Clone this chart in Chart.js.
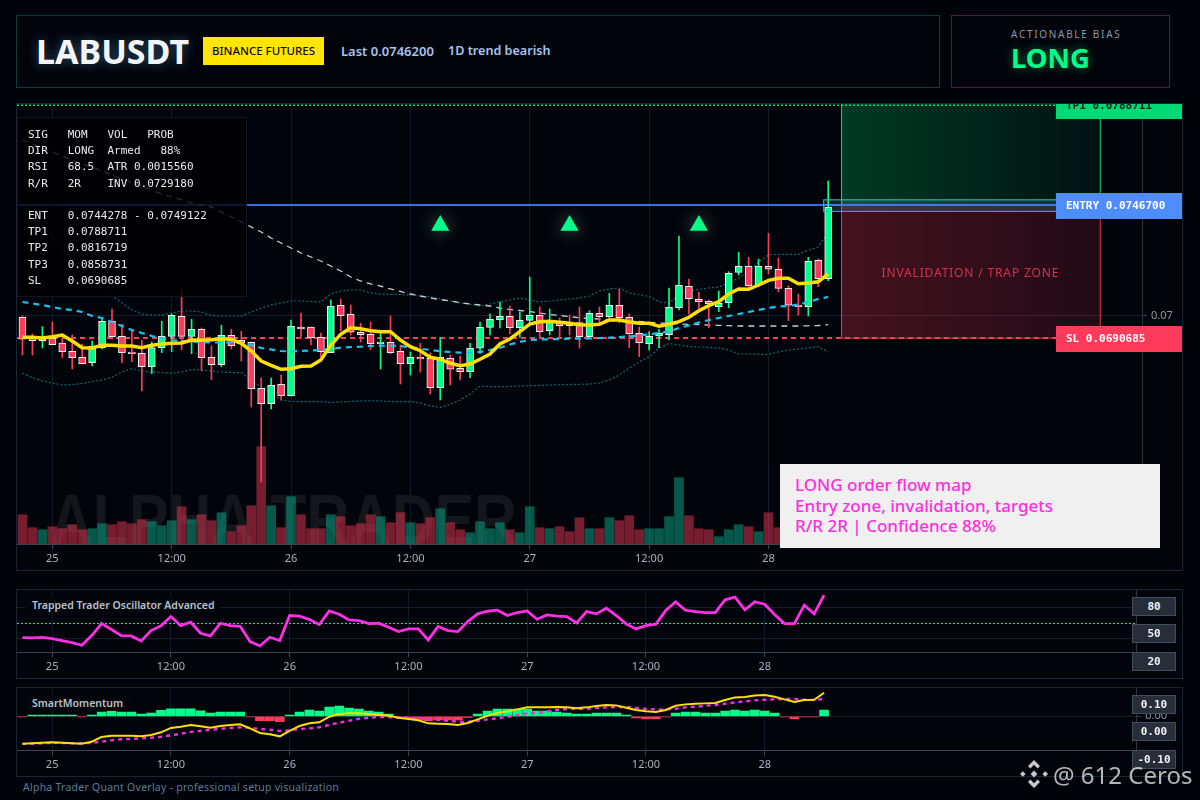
<!DOCTYPE html>
<html>
<head>
<meta charset="utf-8">
<title>LABUSDT</title>
<script src="https://cdn.jsdelivr.net/npm/chart.js@4"></script>
<style>
  html, body { margin: 0; padding: 0; background: #01030a; }
  body { width: 1200px; height: 800px; position: relative; overflow: hidden; font-family: "Noto Sans", sans-serif; }
  .box { position: absolute; box-sizing: border-box; background: #02040b; }
  .abs { position: absolute; white-space: pre; }
  canvas { position: absolute; left: 0; top: 0; }
  .vbox { position: absolute; left: 1132px; width: 44px; height: 19px; box-sizing: border-box; background: #282d3a; border: 1px solid #434d5e;
          color: #eef2f6; font: bold 11px "DejaVu Sans Mono", monospace; line-height: 17px; text-align: center; }
  .ptitle { position: absolute; left: 26px; padding: 0 6px; height: 16px; line-height: 16px; background: #04060c; color: #b9c1cc; font-size: 10.5px; font-weight: 600; }
</style>
</head>
<body>

<div class="box" style="left:16px;top:15px;width:924px;height:73px;border:1px solid #0e3a44;"></div>
<div class="abs" style="left:36px;top:27px;font-size:34px;font-weight:700;line-height:48px;color:#f2f6fb;text-shadow:0 0 12px rgba(120,200,255,.4);">LABUSDT</div>
<div class="abs" style="left:203px;top:37px;width:121px;height:28px;background:#ffe600;color:#0a0a0a;font-size:11.5px;font-weight:500;line-height:28px;text-align:center;">BINANCE FUTURES</div>
<div class="abs" style="left:341px;top:41px;font-size:13px;font-weight:600;line-height:20px;color:#a6c3ee;">Last 0.0746200</div>
<div class="abs" style="left:448px;top:41px;font-size:12.6px;font-weight:600;line-height:20px;color:#a6c3ee;">1D trend bearish</div>

<div class="box" style="left:951px;top:15px;width:219px;height:73px;border:1px solid #4c1a52;"></div>
<div class="abs" style="left:1011px;top:26px;font-size:10px;letter-spacing:1.7px;line-height:16px;color:#8b97a8;">ACTIONABLE BIAS</div>
<div class="abs" style="left:1011px;top:38px;font-size:27.5px;font-weight:700;line-height:40px;color:#00ff88;text-shadow:0 0 10px rgba(0,255,136,.45);">LONG</div>

<div class="box" style="left:16px;top:103px;width:1167px;height:468px;border:1px solid #1a2534;">
  <canvas id="mainChart" width="1165" height="466"></canvas>
</div>

<pre class="abs" style="margin:0;left:17px;top:117px;width:230px;height:180px;box-sizing:border-box;padding:9px 0 0 10px;background:rgba(0,0,0,.8);border:1px solid #10161f;color:#e6ebf0;font:11px/16.2px 'DejaVu Sans Mono',monospace;">SIG   MOM   VOL   PROB
DIR   LONG  Armed   88%
RSI   68.5  ATR 0.0015560
R/R   2R    INV 0.0729180

ENT   0.0744278 - 0.0749122
TP1   0.0788711
TP2   0.0816719
TP3   0.0858731
SL    0.0690685</pre>

<div class="abs" style="left:780px;top:464px;width:380px;height:84px;background:#f0f0f0;"></div>
<div class="abs" style="left:795px;top:475px;color:#ff2de0;font-size:17px;font-weight:500;line-height:20.5px;">LONG order flow map
Entry zone, invalidation, targets
R/R 2R | Confidence 88%</div>

<div class="box" style="left:16px;top:589px;width:1167px;height:90px;border:1px solid #1a2534;">
  <canvas id="oscChart" width="1165" height="88"></canvas>
</div>
<div class="ptitle" style="top:597px;">Trapped Trader Oscillator Advanced</div>

<div class="box" style="left:16px;top:687px;width:1167px;height:90px;border:1px solid #1a2534;">
  <canvas id="momChart" width="1165" height="88"></canvas>
</div>
<div class="ptitle" style="top:695px;">SmartMomentum</div>

<div id="valueBoxes"></div>

<div class="abs" style="left:23px;top:779px;font-size:10.5px;letter-spacing:.25px;line-height:16px;color:#5d7c92;">Alpha Trader Quant Overlay - professional setup visualization</div>

<svg class="abs" style="left:1020px;top:760px;" width="28" height="28" viewBox="0 0 28 28" fill="#c9c9c9">
  <path d="M14 0l6 6-2.4 2.4L14 4.8l-3.6 3.6L8 6zM0 14l2.8-2.8L5.6 14l-2.8 2.8zM14 10.6l3.4 3.4L14 17.4 10.6 14zM22.4 14l2.8-2.8L28 14l-2.8 2.8zM14 28l-6-6 2.4-2.4 3.6 3.6 3.6-3.6L20 22z"/>
</svg>
<div class="abs" style="left:1053px;top:755px;font-size:24px;line-height:40px;color:rgba(214,214,214,.85);">@ 612 Ceros</div>

<script>
// hourly candles
const opens = [
  0.069945,0.069061,0.06896,0.069061,0.068863,0.068514,0.068261,0.068033,0.068652,0.069777,
  0.069145,0.068484,0.068429,0.067865,0.068665,0.069145,0.069987,0.069145,0.06944,0.068261,
  0.067949,0.069187,0.068977,0.068893,0.066955,0.066307,0.067124,0.066631,0.069537,0.069537,
  0.069103,0.068455,0.070451,0.070072,0.069314,0.069229,0.068834,0.068893,0.068514,0.067991,
  0.068261,0.068219,0.066981,0.068219,0.067798,0.067654,0.06864,0.069524,0.069844,0.069987,
  0.069507,0.069819,0.070029,0.069381,0.069718,0.069693,0.069718,0.069128,0.070114,0.069971,
  0.070451,0.069945,0.069271,0.068834,0.069158,0.069213,0.07035,0.071251,0.070703,0.070619,
  0.070392,0.07056,0.07184,0.072093,0.071305,0.072093,0.071967,0.071166,0.070463,0.070392,
  0.072346,0.071571
];
const closes = [
  0.069019,0.06896,0.069061,0.068791,0.068497,0.068244,0.067991,0.068737,0.069777,0.069128,
  0.068455,0.068412,0.067865,0.068665,0.069145,0.070029,0.069145,0.06944,0.068244,0.067949,
  0.069187,0.068749,0.068876,0.066939,0.066307,0.067082,0.066631,0.069566,0.069453,0.069086,
  0.068497,0.070408,0.070013,0.069314,0.069213,0.068834,0.068905,0.068455,0.067991,0.068261,
  0.068189,0.066981,0.068261,0.067756,0.067654,0.06864,0.069524,0.069861,0.069987,0.069507,
  0.069819,0.070029,0.069339,0.069777,0.069592,0.069592,0.069128,0.070114,0.069971,0.070451,
  0.069928,0.069255,0.068876,0.069145,0.069271,0.070366,0.071293,0.070729,0.070602,0.070518,
  0.070535,0.071798,0.072093,0.071276,0.072093,0.071967,0.071166,0.070451,0.070392,0.072303,
  0.071571,0.074577
];
const highs = [
  0.07,0.069242,0.069549,0.069747,0.069074,0.0692,0.068821,0.068947,0.069874,0.070295,
  0.06965,0.06941,0.068989,0.068905,0.069777,0.070084,0.071095,0.069861,0.069495,0.068737,
  0.069608,0.06944,0.069356,0.068905,0.067389,0.067389,0.067516,0.069832,0.070126,0.069537,
  0.069284,0.070674,0.070716,0.070463,0.069693,0.069747,0.069271,0.07,0.068779,0.068484,
  0.06885,0.068442,0.069103,0.068358,0.068316,0.06885,0.069747,0.070084,0.07059,0.070421,
  0.070168,0.071642,0.070379,0.070295,0.069916,0.070042,0.070379,0.070223,0.070379,0.070956,
  0.071124,0.070084,0.069537,0.069339,0.06944,0.071179,0.073369,0.071558,0.071011,0.070674,
  0.071053,0.071865,0.072682,0.072472,0.072388,0.073483,0.072442,0.071276,0.070926,0.072472,
  0.0724,0.075685
];
const lows = [
  0.068358,0.068358,0.068652,0.068779,0.068244,0.067768,0.067979,0.067894,0.06861,0.069031,
  0.068033,0.068076,0.066842,0.06757,0.068455,0.068497,0.068581,0.068412,0.067697,0.067318,
  0.067865,0.06861,0.068105,0.066168,0.06301,0.066084,0.066463,0.066631,0.069103,0.068779,
  0.068273,0.068455,0.069368,0.0692,0.068905,0.068581,0.067768,0.068412,0.067137,0.067516,
  0.067642,0.066715,0.066463,0.067094,0.067305,0.067402,0.068429,0.0692,0.069495,0.069242,
  0.069103,0.069705,0.069103,0.0692,0.069074,0.0692,0.068652,0.069061,0.069693,0.069903,
  0.069718,0.068665,0.068286,0.068568,0.068665,0.068989,0.070253,0.070084,0.070253,0.069507,
  0.070181,0.07035,0.071727,0.071095,0.071234,0.071769,0.071023,0.069802,0.070042,0.07,
  0.071234,0.071487
];

const volumes = [
  29.3,16.3,14.3,17.3,15.3,19.3,14.3,15.3,20.3,19.3,22.3,20.3,24.3,22.3,18.3,23.3,37.3,24.3,29.3,23.3,
  31.3,12.3,18.3,38.3,97.3,38.3,16.3,47.3,29.3,15.3,15.3,29.3,27.3,18.3,20.3,29.3,27.3,21.3,31.3,21.3,
  20.3,26.3,35.3,21.3,14.3,11.3,22.3,15.3,21.3,14.3,11.3,37.3,16.3,15.3,17.3,12.3,26.3,15.3,15.3,26.3,
  23.3,28.3,14.3,15.3,15.3,27.3,66.3,28.3,15.3,14.3,7.3,14.3,19.3,17.3,12.3,31.3,16.3,15,15,20,20,30
];
// 1 = teal bar, 0 = red bar
const volumeUp = [
  0,0,1,0,0,0,0,1,1,0,0,0,0,1,1,1,0,1,0,0,
  1,0,0,0,0,1,0,1,0,0,0,1,0,0,0,0,1,0,0,1,
  0,0,1,0,0,1,1,1,1,0,1,1,0,1,0,0,0,1,0,1,
  0,0,0,1,1,1,1,0,0,0,1,1,1,0,1,0,0,0,0,0,0,1
];

const emaFast = [
  0.069103,0.069103,0.069074,0.069128,0.0692,0.068947,0.068665,0.068652,0.068766,0.068766,
  0.068737,0.068737,0.068665,0.068766,0.068821,0.06885,0.068863,0.068989,0.068977,0.069002,
  0.069044,0.069019,0.06885,0.068526,0.068105,0.067924,0.067756,0.067781,0.067882,0.067894,
  0.068147,0.068779,0.069229,0.069507,0.069465,0.069381,0.069339,0.069339,0.068989,0.068707,
  0.068539,0.068261,0.068177,0.068008,0.067907,0.067979,0.068177,0.0684,0.068821,0.069031,
  0.069339,0.069663,0.06976,0.069777,0.069735,0.069693,0.069634,0.069621,0.06965,0.069832,
  0.069832,0.069747,0.069693,0.069693,0.069566,0.06965,0.06976,0.069945,0.070223,0.070434,
  0.070602,0.070926,0.071137,0.071124,0.071305,0.071503,0.071588,0.071588,0.07136,0.07139,
  0.071444,0.071769
];
const emaSlow = [
  0.07059,0.070526,0.070463,0.070379,0.070295,0.070253,0.070168,0.07,0.069916,0.069747,
  0.069579,0.06941,0.069284,0.069158,0.069074,0.068989,0.068947,0.068926,0.068905,0.068884,
  0.068884,0.068884,0.068863,0.068779,0.068652,0.068589,0.068526,0.068505,0.068526,0.068547,
  0.068568,0.06861,0.068665,0.068695,0.068707,0.068737,0.068749,0.068745,0.068737,0.068674,
  0.068623,0.068568,0.068514,0.068484,0.068455,0.068463,0.068484,0.068568,0.068665,0.0688,
  0.068905,0.068989,0.06901,0.069019,0.069031,0.069044,0.069044,0.069053,0.069074,0.069086,
  0.069116,0.069137,0.069179,0.069229,0.069284,0.069347,0.069495,0.0696,0.069726,0.069832,
  0.069916,0.07,0.070084,0.070168,0.070253,0.070337,0.0704,0.070421,0.070484,0.07059,
  0.070716,0.0708
];
const maLong = [
  0.077411,0.077243,0.077074,0.076906,0.076738,0.076569,0.076401,0.076274,0.076106,0.075938,
  0.075769,0.075622,0.075474,0.075306,0.075137,0.075011,0.074885,0.074758,0.074674,0.07459,
  0.074379,0.074169,0.073958,0.073748,0.073537,0.073285,0.073074,0.072863,0.072653,0.072484,
  0.072316,0.072106,0.071895,0.071642,0.071474,0.071348,0.071263,0.071137,0.071032,0.070926,
  0.070842,0.070758,0.070695,0.070632,0.070568,0.070505,0.070463,0.070421,0.070337,0.070274,
  0.070232,0.070189,0.070126,0.070063,0.070021,0.069971,0.069928,0.069895,0.069874,0.069844,
  0.069823,0.069798,0.069768,0.069735,0.069705,0.069684,0.069663,0.06965,0.069638,0.069621,
  0.069608,0.069592,0.069579,0.069579,0.069579,0.069579,0.069579,0.069579,0.069579,0.069587,
  0.0696,0.069634
];
const bandUpper = [
  0.074464,0.074127,0.07379,0.073369,0.072779,0.072442,0.072106,0.0716,0.071179,0.070842,
  0.070547,0.070253,0.070084,0.070042,0.070042,0.070126,0.070211,0.070211,0.070168,0.070021,
  0.07,0.07,0.07,0.070168,0.070337,0.070463,0.070547,0.070632,0.070632,0.070611,
  0.07059,0.070926,0.071053,0.071095,0.071095,0.070968,0.070926,0.070914,0.070905,0.070884,
  0.070842,0.0708,0.070716,0.070632,0.070547,0.070484,0.070421,0.070505,0.07059,0.070674,
  0.070758,0.070674,0.07059,0.070632,0.070674,0.070716,0.070758,0.070842,0.071053,0.071137,
  0.071179,0.070968,0.070905,0.070821,0.07059,0.070547,0.070884,0.071053,0.071116,0.071179,
  0.071221,0.07139,0.0716,0.071853,0.072274,0.072569,0.072598,0.072598,0.072598,0.072779,
  0.072906,0.073537
];
const bandLower = [
  0.0676,0.06741,0.067263,0.067179,0.067094,0.067115,0.067158,0.067242,0.067305,0.067431,
  0.067642,0.067789,0.067684,0.067642,0.067621,0.067587,0.067642,0.067747,0.067726,0.067684,
  0.067642,0.067621,0.067612,0.067305,0.06701,0.066715,0.066463,0.0664,0.066391,0.066391,
  0.066391,0.066357,0.066379,0.0664,0.066421,0.066433,0.066421,0.0664,0.066391,0.066391,
  0.066336,0.06621,0.066155,0.066273,0.066463,0.066715,0.067052,0.067031,0.067023,0.067031,
  0.067052,0.067065,0.067073,0.067094,0.067107,0.067115,0.067124,0.067137,0.067179,0.067305,
  0.067516,0.06781,0.068063,0.068274,0.068652,0.068842,0.068779,0.068716,0.068695,0.068674,
  0.068652,0.068568,0.0684,0.0684,0.068387,0.068387,0.068484,0.068568,0.06861,0.068652,
  0.068707,0.068484
];

const signalCandles = [42, 55, 68];
const signalPrices = [0.07381, 0.07381, 0.07381];

const entryPrice = 0.07467;
const entryLow = 0.0744278;
const entryHigh = 0.0749122;
const slPrice = 0.0690685;
const tp1Price = 0.0788711;

const tickPositions = [3, 15, 27, 39, 51, 63, 75];
const tickLabels = ['25', '12:00', '26', '12:00', '27', '12:00', '28'];
const priceTicks = [0.07];

const oscValues = [
  22.6,21.9,23.2,20.7,16.8,12.9,7.8,26.5,49.7,38.1,26.5,25.8,16.1,36.1,45.2,63.2,45.8,52.3,31,25.8,
  50.3,45.8,44.5,14.8,6.5,23.2,16.8,65.2,63.9,57.4,47.8,74.2,67.8,56.8,55.5,49.7,50.3,42.6,34.2,39.4,
  39.4,18.1,43.9,36.1,34.2,53.5,68.4,73.5,75.5,65.2,71,74.2,58.1,66.5,63.9,63.2,51,72.9,68.4,79.4,
  65.2,49,39.4,45.8,48.4,74.8,91.6,75.5,72.9,71,71,95.5,100.6,76.1,91.6,87.1,67.1,49.7,49.7,85.2,
  68.4,104.5
];
const oscLevel = 50;
const oscTicks = [20, 80];
const oscBoxLabels = ['80', '50', '20'];

const momFast = [
  -0.137,-0.135,-0.132,-0.13,-0.132,-0.135,-0.137,-0.127,-0.103,-0.097,-0.097,-0.097,-0.1,-0.093,-0.08,-0.058,-0.052,-0.043,-0.05,-0.057,
  -0.048,-0.043,-0.04,-0.06,-0.083,-0.09,-0.1,-0.073,-0.048,-0.035,-0.03,-0.002,0.012,0.015,0.015,0.012,0.008,0.003,-0.007,-0.013,
  -0.02,-0.035,-0.037,-0.038,-0.043,-0.033,-0.015,0.003,0.017,0.025,0.035,0.045,0.045,0.045,0.047,0.045,0.04,0.045,0.052,0.057,
  0.055,0.043,0.032,0.025,0.022,0.032,0.053,0.06,0.063,0.065,0.067,0.082,0.095,0.097,0.105,0.107,0.098,0.085,0.072,0.082,
  0.083,0.118
];
const momSlow = [
  -0.138,-0.137,-0.135,-0.133,-0.133,-0.135,-0.135,-0.133,-0.127,-0.12,-0.115,-0.113,-0.11,-0.107,-0.102,-0.095,-0.087,-0.078,-0.072,-0.067,
  -0.063,-0.058,-0.055,-0.057,-0.063,-0.067,-0.073,-0.07,-0.063,-0.06,-0.055,-0.043,-0.032,-0.022,-0.012,-0.007,-0.003,-0.003,-0.007,-0.007,
  -0.01,-0.013,-0.017,-0.022,-0.027,-0.028,-0.022,-0.015,-0.01,-0.002,0.007,0.015,0.018,0.025,0.032,0.037,0.038,0.038,0.042,0.045,
  0.047,0.047,0.042,0.037,0.035,0.035,0.038,0.045,0.048,0.053,0.057,0.063,0.07,0.075,0.08,0.083,0.085,0.087,0.087,0.083,
  0.082,0.087
];
const momHist = [
  -0.002,0.007,0.007,0.007,0.007,0.007,-0.002,0.007,0.022,0.025,0.022,0.022,0.012,0.017,0.03,0.038,0.038,0.038,0.028,0.017,
  0.022,0.022,0.022,-0.002,-0.022,-0.022,-0.027,0.007,0.022,0.032,0.027,0.047,0.052,0.042,0.037,0.027,0.022,0.012,-0.002,-0.01,
  -0.015,-0.022,-0.018,-0.018,-0.018,-0.005,0.012,0.027,0.037,0.037,0.037,0.037,0.027,0.027,0.022,0.017,0.012,0.012,0.017,0.017,
  0.017,0.007,-0.008,-0.013,-0.013,-0.002,0.017,0.022,0.022,0.017,0.017,0.027,0.032,0.027,0.032,0.027,0.017,-0.002,-0.013,-0.002,
  -0.002,0.032
];
const momTicks = [0];
const momBoxLabels = ['0.10', '0.00', '-0.10'];

const UP = '#00ff88';
const DOWN = '#ff3b5c';
const X_MIN = -0.55;
const X_MAX = 112.55;
const LEVEL_END = 103.9;    // level lines stop where the price tags start
const ZONE_START = 82.3;
const ZONE_END = 108.3;
const ENTRY_BOX_START = 80.5;

const toXY = (arr) => arr.map((v, i) => ({ x: i, y: v }));
const levelLine = (price) => [{ x: X_MIN, y: price }, { x: LEVEL_END, y: price }];

const timeAxis = (height) => ({
  type: 'linear',
  min: X_MIN,
  max: X_MAX,
  offset: false,
  grid: { offset: false, color: '#0d1c28', tickColor: '#3a4452', tickLength: 5 },
  border: { color: '#3a4452' },
  afterBuildTicks: (scale) => { scale.ticks = tickPositions.map((v) => ({ value: v })); },
  afterFit: (scale) => { scale.height = height; scale.paddingLeft = 0; scale.paddingRight = 0; },
  ticks: {
    autoSkip: false,
    maxRotation: 0,
    padding: 3,
    color: '#aab2bf',
    font: { family: '"Noto Sans"', size: 11 },
    callback: (v) => tickLabels[tickPositions.indexOf(v)]
  }
});

const valueAxis = (min, max, width, ticks, format) => ({
  position: 'right',
  min: min,
  max: max,
  grid: { color: '#171e29', tickColor: '#3a4452', tickLength: 5 },
  border: { color: '#2c3544' },
  afterBuildTicks: (scale) => { scale.ticks = ticks.map((v) => ({ value: v })); },
  afterFit: (scale) => { scale.width = width; scale.paddingTop = 0; scale.paddingBottom = 0; },
  ticks: {
    padding: 4,
    color: '#8f97a5',
    font: { family: '"Noto Sans"', size: 11 },
    callback: format
  }
});

const lineSet = (data, color, width, dash, order, yAxisID) => ({
  type: 'line',
  data: data,
  yAxisID: yAxisID || 'y',
  borderColor: color,
  borderWidth: width,
  borderDash: dash || [],
  pointRadius: 0,
  tension: 0,
  order: order
});

// zones, watermark and price tags on top of the price scales
const overlayPlugin = {
  id: 'overlay',
  beforeDatasetsDraw(chart) {
    const { ctx, chartArea, scales: { x, y } } = chart;
    ctx.save();
    ctx.fillStyle = '#13171c';
    ctx.font = 'bold 72px "Liberation Sans"';
    ctx.textBaseline = 'alphabetic';
    ctx.beginPath();
    ctx.rect(chartArea.left, chartArea.top, chartArea.width, chartArea.height);
    ctx.clip();
    ctx.fillText('ALPHA TRADER', 33, 441, 467);
    ctx.restore();

    const zx0 = x.getPixelForValue(ZONE_START);
    const zx1 = x.getPixelForValue(ZONE_END);
    const enY = y.getPixelForValue(entryPrice);
    const slY = y.getPixelForValue(slPrice);

    let g = ctx.createLinearGradient(zx0, 0, zx1, 0);
    g.addColorStop(0, 'rgba(0,200,100,0.28)');
    g.addColorStop(1, 'rgba(0,200,100,0.07)');
    ctx.fillStyle = g;
    ctx.fillRect(zx0, 0, zx1 - zx0, enY);
    g = ctx.createLinearGradient(zx0, 0, zx1, 0);
    g.addColorStop(0, 'rgba(255,59,92,0.26)');
    g.addColorStop(1, 'rgba(255,59,92,0.13)');
    ctx.fillStyle = g;
    ctx.fillRect(zx0, enY, zx1 - zx0, slY - enY);

    ctx.lineWidth = 1;
    ctx.strokeStyle = '#00e07a';
    ctx.beginPath();
    ctx.moveTo(zx0 + .5, 0);
    ctx.lineTo(zx0 + .5, enY);
    ctx.lineTo(zx1 + .5, enY);
    ctx.lineTo(zx1 + .5, 0);
    ctx.stroke();
    ctx.strokeStyle = 'rgba(255,59,92,0.9)';
    ctx.beginPath();
    ctx.moveTo(zx0 + .5, enY);
    ctx.lineTo(zx0 + .5, slY);
    ctx.lineTo(zx1 + .5, slY);
    ctx.lineTo(zx1 + .5, enY);
    ctx.stroke();

    ctx.fillStyle = '#d9304c';
    ctx.font = '12px "Noto Sans"';
    ctx.letterSpacing = '0.85px';
    ctx.textAlign = 'center';
    ctx.textBaseline = 'middle';
    ctx.fillText('INVALIDATION / TRAP ZONE', (zx0 + zx1) / 2, y.getPixelForValue(0.0718));
    ctx.letterSpacing = '0px';
    ctx.textAlign = 'left';
  },
  afterDatasetsDraw(chart) {
    const { ctx, width, scales: { x, y } } = chart;
    const bx0 = x.getPixelForValue(ENTRY_BOX_START);
    const byTop = y.getPixelForValue(entryHigh);
    const byBot = y.getPixelForValue(entryLow);
    ctx.save();
    ctx.fillStyle = 'rgba(120,170,220,0.18)';
    ctx.fillRect(bx0, byTop, width - bx0, byBot - byTop);
    ctx.strokeStyle = '#1fc6e0';
    ctx.lineWidth = 1;
    ctx.strokeRect(bx0 + .5, byTop + .5, width - bx0, byBot - byTop);

    const tagX = x.getPixelForValue(LEVEL_END);
    const tags = [
      { price: tp1Price, bg: '#00d974', fg: '#05261a', text: 'TP1 0.0788711' },
      { price: entryPrice, bg: '#4f8dff', fg: '#ffffff', text: 'ENTRY 0.0746700' },
      { price: slPrice, bg: '#ff3b5c', fg: '#ffffff', text: 'SL 0.0690685' }
    ];
    ctx.font = 'bold 11px "DejaVu Sans Mono"';
    ctx.textBaseline = 'middle';
    tags.forEach((t) => {
      const ty = Math.ceil(y.getPixelForValue(t.price));
      ctx.fillStyle = t.bg;
      ctx.fillRect(tagX, ty - 13, width - tagX, 26);
      ctx.fillStyle = t.fg;
      ctx.fillText(t.text, tagX + 10, ty);
    });
    ctx.restore();
  },
  beforeDatasetDraw(chart, args) {
    if (args.meta.type === 'scatter') {
      chart.ctx.shadowColor = 'rgba(190,230,220,0.45)';
      chart.ctx.shadowBlur = 16;
    }
  },
  afterDatasetDraw(chart, args) {
    if (args.meta.type === 'scatter') {
      chart.ctx.shadowBlur = 0;
      chart.ctx.shadowColor = 'transparent';
    }
  }
};

const baseOptions = (scales) => ({
  responsive: false,
  animation: false,
  events: [],
  layout: { padding: 0, autoPadding: false },
  plugins: { legend: { display: false }, tooltip: { enabled: false } },
  scales: scales
});

const candleColors = opens.map((o, i) => (closes[i] >= o ? UP : DOWN));

new Chart(document.getElementById('mainChart'), {
  type: 'bar',
  data: {
    datasets: [
      {
        data: volumes.map((v, i) => ({ x: i, y: v })),
        yAxisID: 'yVol',
        grouped: false,
        barThickness: 9,
        backgroundColor: volumeUp.map((u) => (u ? 'rgba(8,190,150,0.45)' : 'rgba(255,59,92,0.46)')),
        order: 20
      },
      lineSet(levelLine(tp1Price), '#00e07a', 1.5, [2, 2], 19),
      lineSet(levelLine(slPrice), DOWN, 2, [5, 4], 18),
      lineSet(levelLine(entryPrice), '#2f6fe8', 2, [], 17),
      lineSet(toXY(bandUpper), '#0f6a78', 1.2, [2, 2], 16),
      lineSet(toXY(bandLower), '#0f6a78', 1.2, [2, 2], 15),
      lineSet(toXY(maLong), '#c9cdd2', 1.3, [6, 5], 14),
      {
        data: lows.map((l, i) => ({ x: i, y: [l, highs[i]] })),
        grouped: false,
        barThickness: 1,
        backgroundColor: candleColors,
        order: 12
      },
      {
        data: opens.map((o, i) => ({ x: i, y: [o, closes[i]] })),
        grouped: false,
        barThickness: 7,
        backgroundColor: candleColors,
        borderColor: '#f2f2f2',
        borderWidth: 1,
        borderSkipped: false,
        order: 11
      },
      lineSet(toXY(emaSlow), '#19c3f0', 2.2, [6, 5], 10),
      lineSet(toXY(emaFast), '#ffe000', 3.5, [], 9),
      {
        type: 'scatter',
        data: signalCandles.map((c, i) => ({ x: c, y: signalPrices[i] })),
        pointStyle: 'triangle',
        pointRadius: 10.5,
        backgroundColor: UP,
        borderWidth: 0,
        order: 8
      }
    ]
  },
  options: baseOptions({
    x: timeAxis(26),
    y: valueAxis(0.060399, 0.078927, 40, priceTicks, (v) => String(v)),
    yVol: { display: false, min: 0, max: 440 }
  }),
  plugins: [overlayPlugin]
});

new Chart(document.getElementById('oscChart'), {
  type: 'line',
  data: {
    datasets: [
      lineSet([{ x: X_MIN, y: oscLevel }, { x: X_MAX, y: oscLevel }], '#2af0a8', 1, [2, 2], 2),
      lineSet(toXY(oscValues), '#ff2fe6', 2.8, [], 1)
    ]
  },
  options: baseOptions({
    x: timeAxis(25.7),
    y: valueAxis(-5.8, 114.5, 45.7, oscTicks, () => '')
  })
});

new Chart(document.getElementById('momChart'), {
  type: 'bar',
  data: {
    datasets: [
      {
        data: toXY(momHist),
        grouped: false,
        barThickness: 9,
        backgroundColor: momHist.map((v) => (v >= 0 ? UP : DOWN)),
        order: 3
      },
      lineSet(toXY(momSlow), '#f02fe0', 2.4, [4, 4], 2),
      lineSet(toXY(momFast), '#ffe000', 2, [], 1)
    ]
  },
  options: baseOptions({
    x: timeAxis(25.3),
    y: valueAxis(-0.172, 0.142, 45.7, momTicks, (v) => v.toFixed(2))
  })
});

// value boxes stacked next to the two lower panels
const boxTops = [597, 624, 652, 695, 722, 750];
oscBoxLabels.concat(momBoxLabels).forEach((label, i) => {
  const el = document.createElement('div');
  el.className = 'vbox';
  el.style.top = boxTops[i] + 'px';
  el.textContent = label;
  document.getElementById('valueBoxes').appendChild(el);
});
</script>
</body>
</html>
